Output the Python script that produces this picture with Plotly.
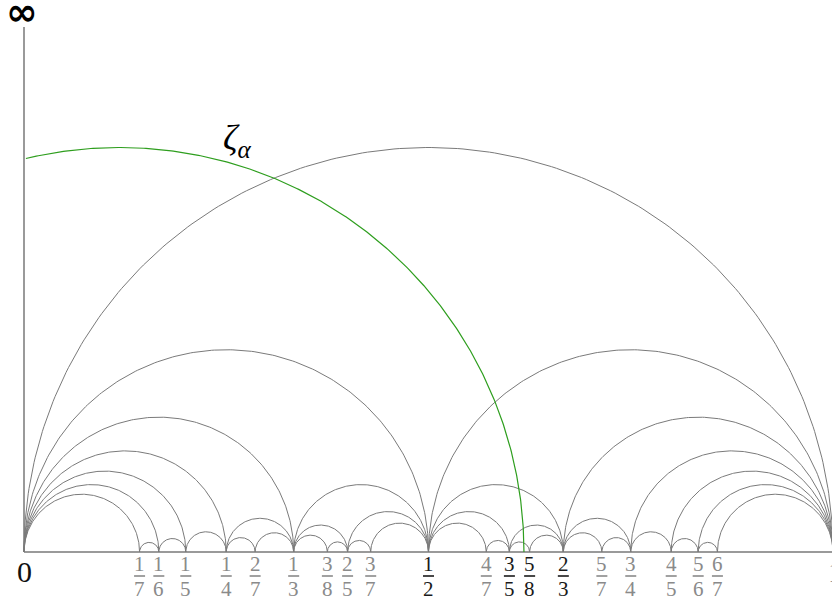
import numpy as np
import plotly.graph_objects as go

# ---- data ----
# Farey geodesics (semicircles) given by their endpoints (p1/q1, p2/q2)
arc_endpoints = [
    ((0, 1), (1, 1)),
    ((0, 1), (1, 2)), ((1, 2), (1, 1)),
    ((0, 1), (1, 3)), ((0, 1), (1, 4)), ((0, 1), (1, 5)), ((0, 1), (1, 6)), ((0, 1), (1, 7)),
    ((2, 3), (1, 1)), ((3, 4), (1, 1)), ((4, 5), (1, 1)), ((5, 6), (1, 1)), ((6, 7), (1, 1)),
    ((1, 7), (1, 6)), ((1, 6), (1, 5)), ((1, 5), (1, 4)),
    ((1, 4), (1, 3)), ((1, 4), (2, 7)), ((2, 7), (1, 3)),
    ((1, 3), (1, 2)), ((1, 3), (2, 5)), ((1, 3), (3, 8)), ((3, 8), (2, 5)),
    ((2, 5), (3, 7)), ((2, 5), (1, 2)), ((3, 7), (1, 2)),
    ((1, 2), (4, 7)), ((1, 2), (3, 5)), ((1, 2), (2, 3)), ((4, 7), (3, 5)),
    ((3, 5), (5, 8)), ((3, 5), (2, 3)), ((5, 8), (2, 3)),
    ((2, 3), (5, 7)), ((2, 3), (3, 4)), ((5, 7), (3, 4)),
    ((3, 4), (4, 5)), ((4, 5), (5, 6)), ((5, 6), (6, 7)),
]

# tick labels on the real axis: (numerator, denominator, highlighted)
frac_labels = [
    (1, 7, False), (1, 6, False), (1, 5, False), (1, 4, False), (2, 7, False),
    (1, 3, False), (3, 8, False), (2, 5, False), (3, 7, False), (1, 2, True),
    (4, 7, False), (3, 5, True), (5, 8, True), (2, 3, True), (5, 7, False),
    (3, 4, False), (4, 5, False), (5, 6, False), (6, 7, False),
]
integer_labels = [(0, "#111111"), (1, "#888888")]

# geodesic zeta_alpha endpoints
alpha = 0.618
alpha_conj = -0.382

# ---- layout helpers ----
W, H = 832, 604
X0PIX, BASEPIX, UNIT = 24, 552, 809          # positions in window pixels
xr = [-X0PIX / UNIT, (W - X0PIX) / UNIT]
yr = [(BASEPIX - H) / UNIT, BASEPIX / UNIT]

def py(pix):
    return (BASEPIX - pix) / UNIT

def px(pix):
    return (pix - X0PIX) / UNIT

ARC_COL = "#7a7a7a"
AXIS_COL = "#9a9a9a"
GREEN = "#2e9e1e"
GREY_TXT = "#8a8a8a"
DARK_TXT = "#1a1a1a"

fig = go.Figure()

t = np.linspace(0, np.pi, 240)
for (a, b) in arc_endpoints:
    x1 = a[0] / a[1]
    x2 = b[0] / b[1]
    c = (x1 + x2) / 2
    r = (x2 - x1) / 2
    fig.add_trace(go.Scatter(x=c + r * np.cos(t), y=r * np.sin(t), mode="lines",
                             line=dict(color=ARC_COL, width=1), hoverinfo="skip",
                             showlegend=False))

# green geodesic (clipped at x >= 0)
gc = (alpha + alpha_conj) / 2
gr = (alpha - alpha_conj) / 2
tg = np.linspace(0, np.pi, 600)
gx = gc + gr * np.cos(tg)
gy = gr * np.sin(tg)
mask = gx >= 0
fig.add_trace(go.Scatter(x=gx[mask], y=gy[mask], mode="lines",
                         line=dict(color=GREEN, width=1.2), hoverinfo="skip",
                         showlegend=False))

# axes lines
fig.add_shape(type="line", x0=0, x1=xr[1] + 0.1, y0=0, y1=0,
              line=dict(color=AXIS_COL, width=2), layer="below")
fig.add_shape(type="line", x0=0, x1=0, y0=0, y1=py(27),
              line=dict(color=AXIS_COL, width=2), layer="below")

FONT = "Liberation Serif"
for (n, d, hl) in frac_labels:
    xv = n / d
    col = DARK_TXT if hl else GREY_TXT
    fig.add_annotation(x=xv, y=py(564), text=str(n), showarrow=False,
                       font=dict(family=FONT, size=21, color=col),
                       xanchor="center", yanchor="middle")
    fig.add_annotation(x=xv, y=py(589), text=str(d), showarrow=False,
                       font=dict(family=FONT, size=21, color=col),
                       xanchor="center", yanchor="middle")
    fig.add_shape(type="line", x0=xv - 5.5 / UNIT, x1=xv + 5.5 / UNIT,
                  y0=py(576), y1=py(576), line=dict(color=col, width=1.6))

for (v, col) in integer_labels:
    if v == 0:
        fig.add_annotation(x=v, y=py(571), text=str(v), showarrow=False,
                           font=dict(family=FONT, size=30, color=col),
                           xanchor="center", yanchor="middle")
    else:
        # label of 1 sits at the right edge and is mostly cut off
        fig.add_annotation(x=px(826), y=py(571), text=str(v), showarrow=False,
                           font=dict(family=FONT, size=30, color=col),
                           xanchor="left", yanchor="middle")

fig.add_annotation(x=px(22), y=py(12), text="<b>∞</b>", showarrow=False,
                   font=dict(family="DejaVu Sans", size=38, color="#000000"),
                   xanchor="center", yanchor="middle")

fig.add_annotation(x=px(237), y=py(140),
                   text="<i>ζ</i><sub><i>α</i></sub>", showarrow=False,
                   font=dict(family=FONT, size=36, color="#000000"),
                   xanchor="center", yanchor="middle")

fig.update_layout(
    width=W, height=H,
    margin=dict(l=0, r=0, t=0, b=0),
    paper_bgcolor="white", plot_bgcolor="white",
    xaxis=dict(range=xr, visible=False, fixedrange=True),
    yaxis=dict(range=yr, visible=False, fixedrange=True),
    showlegend=False,
)

# remove the default page margin so the figure fills the window exactly
fig.write_html("out.html",
               config={"displayModeBar": False, "staticPlot": True},
               post_script="document.body.style.margin='0px';"
                           "document.body.style.overflow='hidden';")
